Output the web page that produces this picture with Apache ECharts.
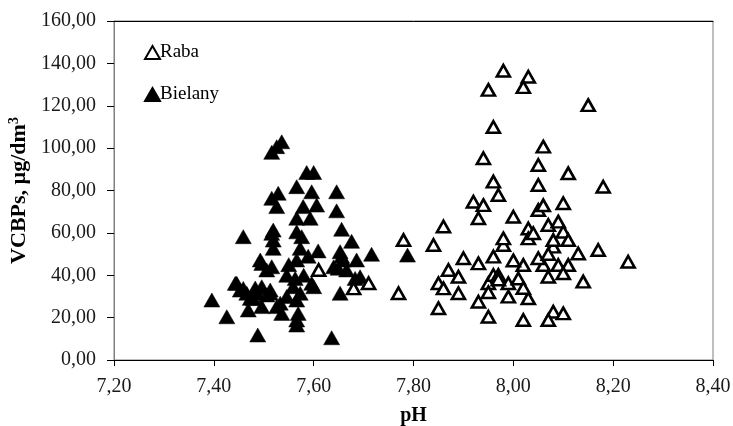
<!DOCTYPE html>
<html>
<head>
<meta charset="utf-8">
<script src="https://cdn.jsdelivr.net/npm/echarts@6/dist/echarts.min.js"></script>
<style>
  html, body { margin: 0; padding: 0; background: #fff; }
  #chart { width: 733px; height: 426px; }
</style>
</head>
<body>
<div id="chart"></div>
<script>
// pH vs VCBPs concentration for two sampling sites
const seriesNames = ['Raba', 'Bielany'];

const rabaPH = [
  7.61, 7.68, 7.71, 7.78, 7.77, 7.84, 7.86, 7.85, 7.87, 7.85, 7.86, 7.89, 7.89, 7.90,
  7.93, 7.93, 7.95, 7.96, 7.98, 7.98, 8.00, 7.95, 7.96, 7.97, 7.99, 8.01, 7.99, 8.02,
  8.03, 8.02, 8.06, 8.07, 8.05, 8.06, 8.03, 8.03, 8.04, 8.07, 8.08, 8.06, 8.05, 8.05,
  7.96, 7.94, 7.96, 7.97, 7.92, 7.94, 7.93, 7.98, 7.95, 8.03, 8.02, 8.15, 8.11, 8.18,
  8.10, 8.09, 8.10, 8.11, 8.08, 8.13, 8.17, 8.23, 8.09, 8.11, 8.10, 8.14, 8.08, 8.07,
  8.10, 7.95, 7.97, 8.00, 8.05, 8.02, 8.07
];
const rabaVCBP = [
  42.5, 33.8, 36.2, 56.6, 31.5, 54.3, 63.0, 24.4, 42.5, 36.2, 33.8, 39.3, 31.5, 48.0,
  45.6, 27.5, 20.4, 48.8, 54.3, 57.4, 67.6, 36.2, 40.1, 40.1, 36.2, 38.5, 29.9, 44.8,
  29.1, 18.9, 44.8, 39.3, 70.8, 73.0, 62.1, 57.4, 59.8, 63.7, 53.5, 100.7, 92.0, 82.6,
  110.0, 95.2, 84.2, 77.9, 74.7, 73.1, 66.9, 136.5, 127.5, 133.7, 128.8, 120.3, 88.1, 81.8,
  74.0, 65.3, 60.5, 56.6, 56.6, 50.3, 51.9, 46.4, 44.8, 44.8, 40.9, 37.0, 22.8, 18.9,
  22.0, 32.0, 38.0, 47.0, 48.0, 34.0, 50.0
];

const bielanyPH = [
  7.536, 7.526, 7.516, 7.459, 7.396, 7.426, 7.488, 7.636, 7.446, 7.459, 7.466, 7.473,
  7.469, 7.496, 7.486, 7.496, 7.493, 7.496, 7.506, 7.516, 7.516, 7.519, 7.519, 7.519,
  7.529, 7.516, 7.526, 7.513, 7.513, 7.506, 7.479, 7.526, 7.536, 7.533, 7.546, 7.566,
  7.566, 7.566, 7.566, 7.586, 7.600, 7.596, 7.646, 7.579, 7.606, 7.646, 7.566, 7.593,
  7.656, 7.566, 7.576, 7.676, 7.653, 7.656, 7.716, 7.686, 7.609, 7.573, 7.589, 7.566,
  7.659, 7.649, 7.666, 7.640, 7.683, 7.693, 7.563, 7.559, 7.600, 7.596, 7.573, 7.653,
  7.569, 7.788, 7.443, 7.453, 7.483, 7.546, 7.580, 7.550
];
const bielanyVCBP = [
  103.0, 100.7, 98.0, 58.2, 28.3, 20.4, 11.8, 10.5, 36.2, 33.8, 31.5, 29.1,
  23.6, 25.2, 31.5, 34.6, 47.2, 45.6, 42.5, 44.0, 59.8, 61.3, 56.6, 52.7,
  78.7, 76.3, 72.4, 33.0, 31.5, 30.7, 29.0, 25.2, 22.0, 26.8, 40.0, 81.8,
  28.3, 18.9, 16.5, 88.5, 88.5, 79.4, 79.4, 72.4, 73.1, 70.4, 66.9, 66.9,
  61.7, 60.5, 58.2, 56.0, 51.1, 49.0, 49.9, 47.2, 51.5, 52.7, 49.0, 47.2,
  47.2, 43.3, 42.5, 44.0, 38.5, 39.3, 38.5, 34.6, 34.6, 36.2, 31.5, 31.5,
  22.0, 49.5, 36.2, 33.0, 34.0, 30.0, 40.0, 45.0
];

const xTicks = { min: 7.2, max: 8.4, step: 0.2 };
const yTicks = { min: 0, max: 160, step: 20 };

const pairs = (xs, ys) => xs.map((x, i) => [x, ys[i]]);
const comma2 = v => Number(v).toFixed(2).replace('.', ',');
const FONT = '"Liberation Serif", "Times New Roman", serif';

const chart = echarts.init(document.getElementById('chart'), null, { renderer: 'canvas' });

chart.setOption({
  animation: false,
  backgroundColor: '#ffffff',
  textStyle: { fontFamily: FONT, color: '#000' },
  grid: {
    left: 114, right: 20, top: 21, bottom: 66,
    containLabel: false,
    outerBoundsMode: 'none',
    show: true, borderColor: '#7f7f7f', borderWidth: 1, backgroundColor: 'transparent'
  },
  legend: {
    orient: 'vertical',
    left: 139, top: 38,
    itemGap: 23,
    itemWidth: 15, itemHeight: 13,
    icon: 'triangle',
    textStyle: { fontFamily: FONT, fontSize: 19, color: '#000', padding: [0, 0, 0, -5] },
    data: seriesNames
  },
  xAxis: [{
    type: 'value',
    min: xTicks.min, max: xTicks.max, interval: xTicks.step,
    name: 'pH',
    nameLocation: 'middle',
    nameGap: 46,
    nameTextStyle: { fontFamily: FONT, fontSize: 20, fontWeight: 'bold', color: '#000' },
    axisLine: { show: true, onZero: false, lineStyle: { color: '#000', width: 1 } },
    axisTick: { show: true, inside: false, length: 6, lineStyle: { color: '#000' } },
    axisLabel: { fontFamily: FONT, fontSize: 20, color: '#1a1a1a', margin: 17, formatter: comma2 },
    splitLine: { show: false }
  }, {
    type: 'value', position: 'top',
    min: xTicks.min, max: xTicks.max,
    axisLine: { show: true, onZero: false, lineStyle: { color: '#000', width: 1 } },
    axisTick: { show: false }, axisLabel: { show: false }, splitLine: { show: false }
  }],
  yAxis: {
    type: 'value',
    min: yTicks.min, max: yTicks.max, interval: yTicks.step,
    name: '{n|VCBPs, µg/dm}{s|3}',
    nameLocation: 'middle',
    nameGap: 83,
    nameRotate: 90,
    nameTextStyle: {
      rich: {
        n: { fontFamily: FONT, fontSize: 22, fontWeight: 'bold', color: '#000' },
        s: { fontFamily: FONT, fontSize: 14, fontWeight: 'bold', color: '#000', verticalAlign: 'top', padding: [0, 0, 10, 0] }
      }
    },
    axisLine: { show: true, onZero: false, lineStyle: { color: '#7f7f7f', width: 1 } },
    axisTick: { show: true, inside: false, length: 7, lineStyle: { color: '#000' } },
    axisLabel: { fontFamily: FONT, fontSize: 20, color: '#1a1a1a', margin: 18, formatter: comma2 },
    splitLine: { show: false }
  },
  series: [{
    name: 'Bielany',
    type: 'scatter',
    symbol: 'triangle',
    symbolSize: [16, 14],
    itemStyle: { color: '#000', borderColor: '#000', borderWidth: 0.5, opacity: 1 },
    z: 2,
    data: pairs(bielanyPH, bielanyVCBP)
  }, {
    name: 'Raba',
    type: 'scatter',
    symbol: 'triangle',
    symbolSize: [13, 11.5],
    itemStyle: { color: '#fff', borderColor: '#000', borderWidth: 2.6, opacity: 1 },
    z: 3,
    data: pairs(rabaPH, rabaVCBP)
  }]
});
</script>
</body>
</html>
